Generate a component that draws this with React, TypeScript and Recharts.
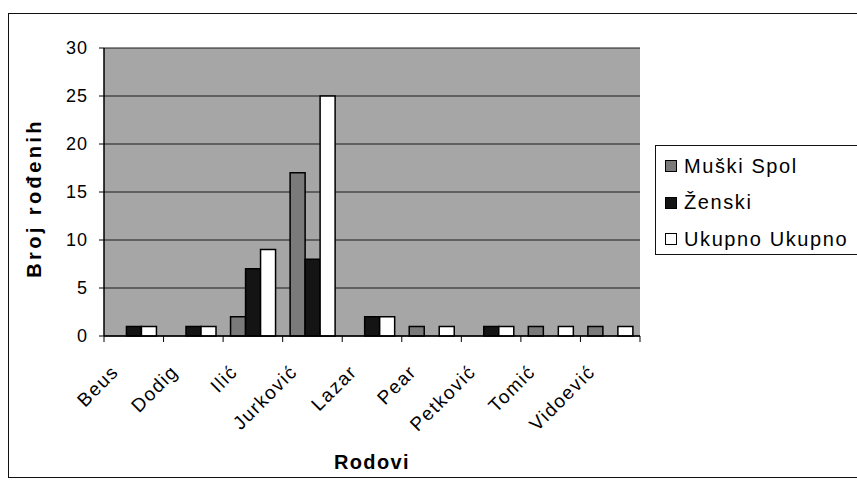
import { BarChart, Bar, XAxis, YAxis, CartesianGrid, Label } from "recharts";

const RODOVI = ["Beus", "Dodig", "Ilić", "Jurković", "Lazar", "Pear", "Petković", "Tomić", "Vidoević"];
const MUSKI = [0, 0, 2, 17, 0, 1, 0, 1, 1];
const ZENSKI = [1, 1, 7, 8, 2, 0, 1, 0, 0];
const UKUPNO = [1, 1, 9, 25, 2, 1, 1, 1, 1];
const Y_TICKS = [0, 5, 10, 15, 20, 25, 30];

const SERIES = [
  { key: "muski", name: "Muški Spol", fill: "#7a7a7a" },
  { key: "zenski", name: "Ženski", fill: "#141414" },
  { key: "ukupno", name: "Ukupno Ukupno", fill: "#ffffff" },
];

const data = RODOVI.map((r, i) => ({
  rod: r,
  muski: MUSKI[i],
  zenski: ZENSKI[i],
  ukupno: UKUPNO[i],
}));

const FONT = "'Liberation Sans', Arial, sans-serif";

// category label, rotated like Excel, plus a tick mark between categories
function RodTick(props: any) {
  const { x, y, payload, index, width, visibleTicksCount } = props;
  const band = width / visibleTicksCount;
  const tx = x - 14;
  const ty = y + 29;
  const axisY = y - 8;
  return (
    <g>
      <line x1={x - band / 2} x2={x - band / 2} y1={axisY} y2={axisY + 6} stroke="#000" strokeWidth={1} />
      {index === visibleTicksCount - 1 && (
        <line x1={x + band / 2} x2={x + band / 2} y1={axisY} y2={axisY + 6} stroke="#000" strokeWidth={1} />
      )}
      <text
        x={tx}
        y={ty}
        transform={`rotate(-45, ${tx}, ${ty})`}
        textAnchor="end"
        fontSize={19}
        fontFamily={FONT}
        fill="#000"
        letterSpacing={1.5}
      >
        {payload.value}
      </text>
    </g>
  );
}

function YTitle(props: any) {
  const vb = props.viewBox || {};
  const cx = 34;
  const cy = (vb.y ?? 0) + (vb.height ?? 0) / 2 + 6;
  return (
    <text
      x={cx}
      y={cy}
      dy={7}
      transform={`rotate(-90, ${cx}, ${cy})`}
      textAnchor="middle"
      fontFamily={FONT}
      fontSize={20}
      fontWeight={700}
      fill="#000"
      letterSpacing={3.4}
    >
      Broj rođenih
    </text>
  );
}

function Legenda() {
  return (
    <div
      style={{
        position: "absolute",
        left: 655,
        top: 145,
        width: 215,
        height: 110,
        border: "1.5px solid #111",
        background: "#fff",
        fontFamily: FONT,
        fontSize: 20,
        color: "#000",
        boxSizing: "border-box",
        paddingTop: 2,
      }}
    >
      {SERIES.map((s) => (
        <div key={s.key} style={{ display: "flex", alignItems: "center", height: 36.5, paddingLeft: 9, whiteSpace: "nowrap" }}>
          <span
            style={{
              display: "inline-block",
              width: 10,
              height: 10,
              background: s.fill,
              border: "1.5px solid #000",
              marginRight: 7,
              flexShrink: 0,
            }}
          />
          <span style={{ letterSpacing: 1.6 }}>{s.name}</span>
        </div>
      ))}
    </div>
  );
}

export default function App() {
  return (
    <div style={{ position: "absolute", left: 0, top: 0, width: 857, height: 487, background: "#fff", overflow: "hidden" }}>
      <div
        style={{
          position: "absolute",
          left: 8,
          top: 13,
          width: 860,
          height: 465,
          border: "1.5px solid #111",
          boxSizing: "border-box",
        }}
      />
      <BarChart
        width={857}
        height={487}
        data={data}
        margin={{ top: 48, right: 217, bottom: 11, left: 44 }}
        barGap={0}
        barCategoryGap="12.5%"
        style={{ position: "absolute", left: 0, top: 0 }}
      >
        <CartesianGrid
          vertical={false}
          horizontal
          fill="#a6a6a6"
          fillOpacity={1}
          stroke="#1a1a1a"
          strokeWidth={1}
        />
        <XAxis
          dataKey="rod"
          tick={<RodTick />}
          tickLine={false}
          axisLine={{ stroke: "#000", strokeWidth: 1.5 }}
          interval={0}
          height={140}
        >
          <Label
            value="Rodovi"
            position="insideBottom"
            offset={7}
            style={{ fontFamily: FONT, fontSize: 20, fontWeight: 700, fill: "#000", letterSpacing: 1.4 }}
          />
        </XAxis>
        <YAxis
          domain={[0, 30]}
          ticks={Y_TICKS}
          width={60}
          tickSize={5}
          tickMargin={11}
          tick={{ fontFamily: FONT, fontSize: 18, fill: "#000", letterSpacing: 1 }}
          tickLine={{ stroke: "#000" }}
          axisLine={{ stroke: "#000", strokeWidth: 1.5 }}
        >
          <Label content={<YTitle />} />
        </YAxis>
        {SERIES.map((s) => (
          <Bar
            key={s.key}
            dataKey={s.key}
            name={s.name}
            fill={s.fill}
            stroke="#000"
            strokeWidth={1.5}
            isAnimationActive={false}
          />
        ))}
      </BarChart>
      <Legenda />
    </div>
  );
}
